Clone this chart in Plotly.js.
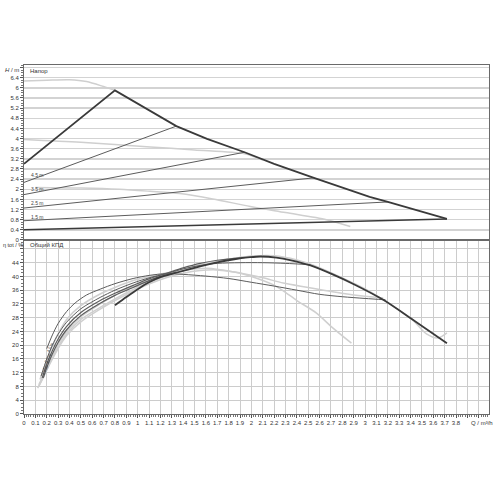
<!DOCTYPE html>
<html>
<head>
<meta charset="utf-8">
<script src="https://cdn.plot.ly/plotly-3.0.1.min.js"></script>
<style>html,body{margin:0;padding:0;background:#fff;}#chart{width:500px;height:500px;}</style>
</head>
<body>
<div id="chart"></div>
<script>
// ---------- Head (top panel) ----------
const headEnvQ = [0, 0.8, 1.34, 1.61, 1.94, 2.2, 2.55, 2.8, 3.04, 3.2, 3.45, 3.72];
const headEnvH = [3.0, 5.9, 4.49, 3.99, 3.46, 3.0, 2.45, 2.07, 1.70, 1.5, 1.17, 0.83];

const ctrlNames  = ['4.5 m', '3.5 m', '2.5 m', '1.5 m', 'min'];
const ctrlStartH = [2.27, 1.79, 1.26, 0.76, 0.40];
const ctrlEndQ   = [1.34, 1.94, 2.55, 3.2, 3.72];
const ctrlEndH   = [4.49, 3.46, 2.45, 1.5, 0.83];
const ctrlLabelH = [2.55, 2.02, 1.44, 0.92];

const maxSpeedQ = [0, 0.2, 0.4, 0.55, 0.7, 0.8];
const maxSpeedH = [6.27, 6.3, 6.32, 6.25, 6.05, 5.9];
const lightBQ = [0, 0.5, 1.11, 1.5, 1.94, 2.1];
const lightBH = [3.96, 3.85, 3.67, 3.55, 3.4, 3.15];
const lightCQ = [0.1, 0.5, 0.84, 1.11, 1.37, 1.66, 1.99, 2.3, 2.66, 2.87];
const lightCH = [2.07, 2.05, 2.0, 1.92, 1.83, 1.62, 1.32, 1.08, 0.80, 0.53];

// ---------- Efficiency (bottom panel) ----------
const effEnvQ = [0.8, 0.9, 1.0, 1.1, 1.2, 1.33, 1.55, 1.7, 1.85, 1.99, 2.08, 2.22, 2.35, 2.52, 2.7, 2.91, 3.16, 3.42, 3.72];
const effEnvE = [31.6, 34.0, 36.3, 38.3, 39.8, 41.0, 42.9, 44.1, 45.0, 45.6, 45.8, 45.5, 44.7, 43.2, 40.8, 37.6, 33.2, 27.4, 20.6];

const eff1Q = [0.2, 0.25, 0.3, 0.375, 0.45, 0.55, 0.67, 0.8, 0.96, 1.1, 1.25, 1.4, 1.6, 1.8, 2.0, 2.2, 2.4, 2.6, 2.8, 3.0, 3.18];
const eff1E = [19, 23, 26.3, 29.8, 32.3, 34.6, 36.3, 37.9, 39.4, 40.3, 40.8, 40.6, 40.1, 39.4, 38.3, 37.2, 36, 34.8, 34.1, 33.6, 33.2];
const eff2Q = [0.15, 0.2, 0.25, 0.3, 0.375, 0.5, 0.67, 0.8, 0.96, 1.1, 1.25, 1.4, 1.55, 1.7, 1.9, 2.1, 2.3, 2.52];
const eff2E = [11, 16, 20, 23.2, 26.7, 30.6, 33.9, 36, 38.1, 39.6, 40.8, 42.2, 43.2, 43.8, 44, 44, 43.8, 43.4];
const eff3Q = [0.16, 0.2, 0.25, 0.3, 0.375, 0.5, 0.67, 0.8, 0.96, 1.1, 1.25, 1.4, 1.55, 1.7, 1.94];
const eff3E = [10.5, 14.5, 18.5, 21.8, 25.5, 29.5, 33, 35.1, 37.4, 39.3, 40.9, 42.5, 43.8, 44.7, 45.5];
const eff4Q = [0.17, 0.2, 0.25, 0.3, 0.375, 0.5, 0.67, 0.8, 0.96, 1.1, 1.2, 1.34];
const eff4E = [10.5, 13.5, 17.5, 20.8, 24.5, 28.6, 32.2, 34.5, 36.8, 38.8, 40, 41.3];

const effAQ = [0.12, 0.16, 0.2, 0.25, 0.3, 0.375, 0.5, 0.67, 0.8, 0.96, 1.1, 1.25, 1.4, 1.6, 1.8, 2.0, 2.2, 2.4, 2.55, 2.8, 3.0, 3.2, 3.42, 3.54, 3.64, 3.72];
const effAE = [7.5, 10, 12.8, 16.3, 19.5, 23.3, 27.5, 31, 33.5, 36.2, 38.3, 40.2, 41.9, 43.6, 45, 45.9, 46, 44.8, 43.2, 39.6, 36.4, 32.4, 27.3, 23.3, 22.1, 23.6];
const effBQ = [0.14, 0.2, 0.25, 0.3, 0.375, 0.5, 0.67, 0.8, 0.96, 1.1, 1.25, 1.4, 1.61, 1.9, 2.1, 2.28, 2.5, 2.7, 2.9, 3.16];
const effBE = [10, 15.5, 19.8, 23.3, 27.5, 31.5, 34.9, 36.8, 38.8, 40, 41, 41.8, 42.4, 41, 39.6, 38.1, 36.8, 35.6, 34.6, 33.7];
const effCQ = [0.13, 0.2, 0.25, 0.3, 0.375, 0.5, 0.67, 0.8, 0.96, 1.1, 1.25, 1.4, 1.55, 1.69, 1.85, 2.0, 2.19, 2.28, 2.4, 2.57, 2.7, 2.88];
const effCE = [8, 12.8, 16, 19, 22.8, 26.8, 30.5, 33, 35.7, 37.8, 39.6, 40.9, 41.7, 41.9, 41.3, 40, 37.6, 35.8, 33, 29.4, 25.5, 20.6];
const effDQ = [0.13, 0.2, 0.25, 0.3, 0.375, 0.5, 0.67, 0.8, 0.96, 1.1, 1.25, 1.4, 1.6, 1.8, 1.95, 2.1];
const effDE = [8.5, 13.3, 17, 20.3, 24, 28.3, 32, 34.5, 37, 38.8, 40.5, 42, 43.8, 45, 45.7, 46];

const effLabelQ = [0.235, 0.215, 0.2, 0.185];
const effLabelE = [19.5, 16.3, 14.3, 12.6];

// ---------- Ticks ----------
const qTickVals = [0,0.1,0.2,0.3,0.4,0.5,0.6,0.7,0.8,0.9,1,1.1,1.2,1.3,1.4,1.5,1.6,1.7,1.8,1.9,2,2.1,2.2,2.3,2.4,2.5,2.6,2.7,2.8,2.9,3,3.1,3.2,3.3,3.4,3.5,3.6,3.7,3.8,3.9,4.0];
const qTickText = ['0','0.1','0.2','0.3','0.4','0.5','0.6','0.7','0.8','0.9','1','1.1','1.2','1.3','1.4','1.5','1.6','1.7','1.8','1.9','2','2.1','2.2','2.3','2.4','2.5','2.6','2.7','2.8','2.9','3','3.1','3.2','3.3','3.4','3.5','3.6','3.7','3.8','',''];
const hTickVals = [0,0.4,0.8,1.2,1.6,2,2.4,2.8,3.2,3.6,4,4.4,4.8,5.2,5.6,6,6.4,6.8];
const hTickText = ['0','0.4','0.8','1.2','1.6','2','2.4','2.8','3.2','3.6','4','4.4','4.8','5.2','5.6','6','6.4',''];
const eTickVals = [0,4,8,12,16,20,24,28,32,36,40,44,48];
const eTickText = ['0','4','8','12','16','20','24','28','32','36','40','44',''];

const DARK = '#3a3a3a', MID = '#5c5c5c', LIGHT = '#cfcfcf';

function line(x, y, color, width, top, smooth) {
  return {x: x, y: y, type: 'scatter', mode: 'lines',
          line: {color: color, width: width, shape: smooth ? 'spline' : 'linear', smoothing: 0.8},
          xaxis: top ? 'x2' : 'x', yaxis: top ? 'y2' : 'y', hoverinfo: 'skip', showlegend: false};
}

const traces = [];
// top panel light curves
traces.push(line(maxSpeedQ, maxSpeedH, LIGHT, 1.5, true, true));
traces.push(line(lightBQ, lightBH, LIGHT, 1.5, true, true));
traces.push(line(lightCQ, lightCH, LIGHT, 1.5, true, true));
// control lines
for (let i = 0; i < ctrlStartH.length; i++) {
  const last = i === ctrlStartH.length - 1;
  traces.push(line([0, ctrlEndQ[i]], [ctrlStartH[i], ctrlEndH[i]], last ? DARK : MID, last ? 1.5 : 1, true, false));
}
traces.push(line(headEnvQ, headEnvH, DARK, 1.8, true, false));

// bottom panel
traces.push(line(effAQ, effAE, LIGHT, 1.5, false, true));
traces.push(line(effBQ, effBE, LIGHT, 1.5, false, true));
traces.push(line(effCQ, effCE, LIGHT, 1.5, false, true));
traces.push(line(effDQ, effDE, LIGHT, 1.5, false, true));
traces.push(line(eff1Q, eff1E, MID, 1, false, true));
traces.push(line(eff2Q, eff2E, MID, 1, false, true));
traces.push(line(eff3Q, eff3E, MID, 1.2, false, true));
traces.push(line(eff4Q, eff4E, MID, 1.2, false, true));
traces.push(line(effEnvQ, effEnvE, DARK, 1.8, false, true));

const FONT = 'Liberation Sans, Arial, sans-serif';
const annotations = [
  {text: '<i>H</i> / m', xref: 'paper', yref: 'paper', x: -0.006, y: 0.986, xanchor: 'right', yanchor: 'middle', showarrow: false, font: {size: 6, color: '#333'}},
  {text: 'Напор', xref: 'paper', yref: 'paper', x: 0.008, y: 0.983, xanchor: 'left', yanchor: 'middle', showarrow: false, font: {size: 6, color: '#333'}},
  {text: 'η tot / %', xref: 'paper', yref: 'paper', x: -0.049, y: 0.484, xanchor: 'left', yanchor: 'middle', showarrow: false, font: {size: 5.5, color: '#333'}},
  {text: 'Общий КПД', xref: 'paper', yref: 'paper', x: 0.008, y: 0.484, xanchor: 'left', yanchor: 'middle', showarrow: false, font: {size: 6, color: '#333'}},
  {text: 'Q / m³/h', xref: 'paper', yref: 'paper', x: 0.986, y: -0.025, xanchor: 'center', yanchor: 'middle', showarrow: false, font: {size: 6, color: '#333'}}
];
for (let i = 0; i < ctrlLabelH.length; i++) {
  annotations.push({text: ctrlNames[i], xref: 'x2', yref: 'y2', x: 0.04, y: ctrlLabelH[i], xanchor: 'left', yanchor: 'middle',
                    showarrow: false, font: {size: 5, color: '#444'}});
  annotations.push({text: ctrlNames[i], xref: 'x', yref: 'y', x: effLabelQ[i], y: effLabelE[i], xanchor: 'center', yanchor: 'middle',
                    textangle: -62, showarrow: false, font: {size: 4, color: '#444'}});
}

const axisCommon = {zeroline: false, showline: true, linecolor: '#6a6a6a', linewidth: 1, mirror: true,
                    tickfont: {size: 6, color: '#333', family: FONT}, tickcolor: '#555'};

const layout = {
  width: 500, height: 500,
  margin: {l: 24, r: 11, t: 65, b: 86, pad: 0},
  paper_bgcolor: '#fff', plot_bgcolor: '#fff',
  font: {family: FONT, size: 6, color: '#333'},
  showlegend: false,
  xaxis: Object.assign({}, axisCommon, {
    domain: [0, 1], range: [0, 4.09], anchor: 'y',
    tickmode: 'array', tickvals: qTickVals, ticktext: qTickText,
    showgrid: true, gridcolor: '#cccccc', gridwidth: 1,
    ticks: 'outside', ticklen: 3,
    minor: {dtick: 0.02, ticks: 'outside', ticklen: 2, tickcolor: '#777', showgrid: false}
  }),
  xaxis2: Object.assign({}, axisCommon, {
    domain: [0, 1], range: [0, 4.09], anchor: 'y2', matches: 'x',
    showgrid: false, showticklabels: false, ticks: ''
  }),
  yaxis: Object.assign({}, axisCommon, {
    domain: [0, 0.4986], range: [0, 50.6], anchor: 'x',
    tickmode: 'array', tickvals: eTickVals, ticktext: eTickText,
    showgrid: true, gridcolor: '#cccccc', gridwidth: 1,
    ticks: 'outside', ticklen: 3,
    minor: {dtick: 1, ticks: 'outside', ticklen: 2, tickcolor: '#777', showgrid: false}
  }),
  yaxis2: Object.assign({}, axisCommon, {
    domain: [0.4986, 1], range: [0, 6.9], anchor: 'x2',
    tickmode: 'array', tickvals: hTickVals, ticktext: hTickText,
    showgrid: true, gridcolor: '#d3d3d3', gridwidth: 1.5,
    ticks: 'outside', ticklen: 3,
    minor: {dtick: 0.1, ticks: 'outside', ticklen: 2, tickcolor: '#777', showgrid: false}
  }),
  annotations: annotations
};

Plotly.newPlot('chart', traces, layout, {staticPlot: true, displayModeBar: false});
</script>
</body>
</html>
